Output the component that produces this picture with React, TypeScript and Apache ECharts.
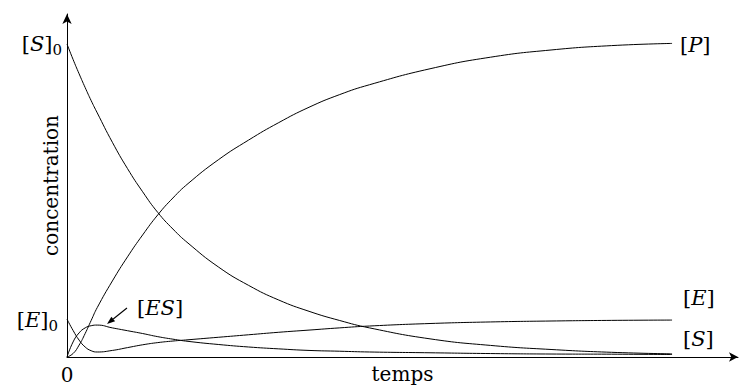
import React, { useEffect, useRef } from "react";
import * as echarts from "echarts";

// time samples (arbitrary units) and concentrations (% of [S]0)
const times = [0, 0.1, 0.2, 0.3, 0.4, 0.5, 0.75, 1, 1.25, 1.5, 1.75, 2, 2.5, 3, 3.5, 4, 4.5, 5, 6, 7, 8, 9, 10];
const sValues = [100, 95.1, 90.5, 86.1, 81.9, 78.0, 68.6, 60.2, 52.8, 46.2, 40.9, 36.4, 28.8, 22.9, 18.2, 14.6, 11.7, 9.3, 5.8, 3.7, 2.4, 1.5, 1.0];
const pValues = [0, 1.1, 3.8, 7.5, 11.7, 15.8, 24.3, 32.0, 39.0, 45.4, 50.8, 55.4, 63.0, 69.3, 74.9, 79.8, 83.8, 87.0, 92.1, 95.8, 98.1, 99.5, 100.2];
const eValues = [12.1, 8.5, 5.4, 3.2, 2.0, 1.6, 2.1, 3.0, 3.9, 4.6, 5.1, 5.5, 6.3, 7.1, 7.9, 8.6, 9.3, 9.9, 10.7, 11.2, 11.5, 11.7, 11.8];
const esValues = [0, 4.8, 7.7, 9.3, 10.0, 10.2, 9.3, 8.4, 7.5, 6.5, 5.7, 5.0, 4.0, 3.2, 2.6, 2.1, 1.85, 1.6, 1.35, 1.1, 0.95, 0.9, 0.8];

const xMax = 11.09;
const yMax = 109.6;
const xAxisName = "temps";
const yAxisName = "concentration";
const originLabel = "0";

const FONT = '"DejaVu Serif", "Liberation Serif", serif';
const LABEL_SIZE = 21;

const rich = {
  n: { fontFamily: FONT, fontSize: LABEL_SIZE, color: "#000", lineHeight: 26 },
  i: { fontFamily: FONT, fontStyle: "italic", fontSize: LABEL_SIZE, color: "#000", lineHeight: 26 },
  s: { fontFamily: FONT, fontSize: 15, color: "#000", lineHeight: 12, verticalAlign: "bottom" },
};

function pairs(vals: number[]) {
  return times.map((t, i) => [t, vals[i]]);
}

export default function App() {
  const ref = useRef<HTMLDivElement>(null);
  useEffect(() => {
    if (!ref.current) return;
    const chart = echarts.init(ref.current, undefined, { renderer: "svg" });
    const lineStyle = { color: "#000", width: 1 };
    const mkSeries = (name: string, vals: number[]) => ({
      name,
      type: "line",
      data: pairs(vals),
      smooth: true,
      showSymbol: false,
      symbol: "none",
      lineStyle,
      silent: true,
    });
    const txt = (x: number, y: number, text: string, align: string) => ({
      type: "text",
      x,
      y,
      style: { text, rich, align, verticalAlign: "middle" },
    });
    // arrow pointing to [ES]
    const tip = [107, 324];
    const tail = [127, 308];
    const dx = tip[0] - tail[0];
    const dy = tip[1] - tail[1];
    const len = Math.hypot(dx, dy);
    const ux = dx / len, uy = dy / len;
    const hl = 8, hw = 3;
    const bx = tip[0] - ux * hl, by = tip[1] - uy * hl;
    chart.setOption({
      animation: false,
      backgroundColor: "#fff",
      grid: { left: 67, right: 1, top: 14, bottom: 30, containLabel: false, outerBoundsMode: "none" },
      xAxis: {
        type: "value",
        min: 0,
        max: xMax,
        interval: 1,
        axisLine: { show: true, symbol: ["none", "arrow"], symbolSize: [7, 9], lineStyle: { color: "#000", width: 1 } },
        axisTick: { show: false },
        splitLine: { show: false },
        axisLabel: {
          show: true,
          margin: 8,
          fontFamily: FONT,
          fontSize: 20,
          color: "#000",
          showMaxLabel: false,
          formatter: (v: number) => (v === 0 ? originLabel : ""),
        },
        name: xAxisName,
        nameLocation: "middle",
        nameGap: 7,
        nameMoveOverlap: false,
        nameTextStyle: { fontFamily: FONT, fontSize: 20, color: "#000", verticalAlign: "top" },
      },
      yAxis: {
        type: "value",
        min: 0,
        max: yMax,
        axisLine: { show: true, symbol: ["none", "arrow"], symbolSize: [7, 10], lineStyle: { color: "#000", width: 1 } },
        axisTick: { show: false },
        splitLine: { show: false },
        axisLabel: { show: false },
        name: yAxisName,
        nameLocation: "middle",
        nameGap: 6,
        nameMoveOverlap: false,
        nameTextStyle: { fontFamily: FONT, fontSize: 20, color: "#000" },
      },
      series: [
        mkSeries("[S]", sValues),
        mkSeries("[P]", pValues),
        mkSeries("[E]", eValues),
        mkSeries("[ES]", esValues),
      ],
      graphic: [
        txt(62, 44, "{n|[}{i|S}{n|]}{s|0}", "right"),
        txt(58, 320, "{n|[}{i|E}{n|]}{s|0}", "right"),
        txt(137, 308, "{n|[}{i|ES}{n|]}", "left"),
        txt(680, 45, "{n|[}{i|P}{n|]}", "left"),
        txt(683, 298, "{n|[}{i|E}{n|]}", "left"),
        txt(683, 339, "{n|[}{i|S}{n|]}", "left"),
        {
          type: "line",
          shape: { x1: tail[0], y1: tail[1], x2: bx, y2: by },
          style: { stroke: "#000", lineWidth: 1.1 },
        },
        {
          type: "polygon",
          shape: {
            points: [
              [tip[0], tip[1]],
              [bx - uy * hw, by + ux * hw],
              [bx + uy * hw, by - ux * hw],
            ],
          },
          style: { fill: "#000" },
        },
      ],
    });
    return () => chart.dispose();
  }, []);
  return (
    <div
      ref={ref}
      style={{ position: "absolute", left: 0, top: 0, width: 739, height: 387, background: "#fff" }}
    />
  );
}
